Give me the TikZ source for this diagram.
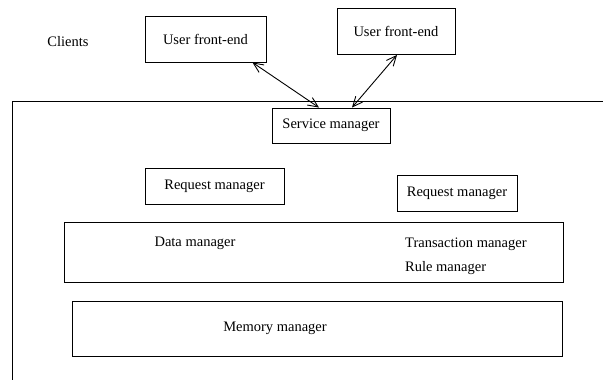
\documentclass[tikz,border=0pt]{standalone}
\usepackage{fontspec}
\setmainfont{Liberation Serif}
\usetikzlibrary{arrows.meta}
\begin{document}
\begin{tikzpicture}[x=1pt,y=-1pt,
  box/.style={draw,line width=0.9pt,rectangle,inner sep=0pt,anchor=center},
  lbl/.style={inner sep=0pt,font=\fontsize{14.5}{17}\selectfont},
  link/.style={line width=0.9pt,{Straight Barb[length=10pt,width=9pt]}-{Straight Barb[length=10pt,width=9pt]}}]
\useasboundingbox (0,0) rectangle (603,380);
% outer frame (open at right and bottom)
\coordinate (ftop) at (603,101);
\coordinate (fcorner) at (12,101);
\coordinate (fbot) at (12,380);
\draw[line width=0.9pt] (ftop) -- (fcorner) -- (fbot);
% nodes
\node[lbl] (clients) at (68,42) {Clients};
\node[box,minimum width=121pt,minimum height=46pt,lbl] (fe1) at (205.5,39) {User front-end};
\node[box,minimum width=118pt,minimum height=46pt,lbl] (fe2) at (396,31.5) {User front-end};
\node[box,minimum width=118pt,minimum height=35pt,lbl] (sm) at (331,125.5) {Service manager};
\node[box,minimum width=139pt,minimum height=36pt,lbl] (rm1) at (214.5,186) {Request manager};
\node[box,minimum width=120pt,minimum height=36pt,lbl] (rm2) at (457,193) {Request manager};
\node[box,minimum width=499pt,minimum height=60pt] (dbox) at (313.5,252) {};
\node[lbl] (dm) at (195,243) {Data manager};
\node[lbl,anchor=west] (tm) at (405,244) {Transaction manager};
\node[lbl,anchor=west] (rum) at (405,268) {Rule manager};
\node[box,minimum width=490pt,minimum height=55pt] (mbox) at (317,328.5) {};
\node[lbl] (mm) at (275,328) {Memory manager};
% connectors
\draw[link] ([xshift=-14pt]fe1.south east) -- ([xshift=-12pt]sm.north);
\draw[link] ([xshift=1pt]fe2.south) -- ([xshift=21pt]sm.north);
\end{tikzpicture}
\end{document}
